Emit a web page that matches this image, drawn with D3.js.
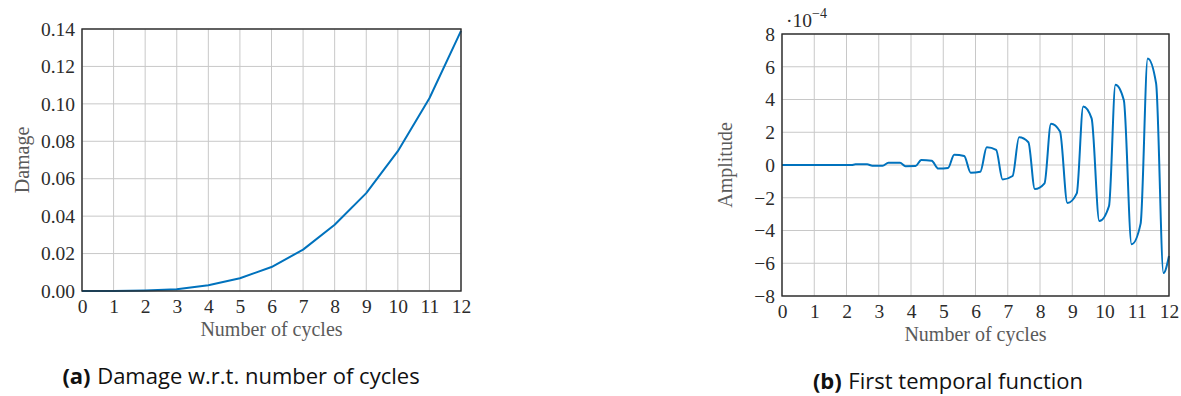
<!DOCTYPE html>
<html>
<head>
<meta charset="utf-8">
<script src="https://cdn.jsdelivr.net/npm/d3@7"></script>
<style>
  html, body { margin: 0; padding: 0; background: #fff; }
  svg { display: block; }
</style>
</head>
<body>
<svg id="fig" width="1181" height="396"></svg>
<script>
// Panel (a): accumulated damage at each whole cycle
const damageCycles = [0, 1, 2, 3, 4, 5, 6, 7, 8, 9, 10, 11, 12];
const damageValues = [0, 0.0000, 0.0003, 0.0009, 0.0031, 0.0068, 0.0128, 0.0221, 0.0354, 0.0523, 0.0747, 0.1030, 0.1390];
const damageTicks = [0, 0.02, 0.04, 0.06, 0.08, 0.10, 0.12, 0.14];

// Panel (b): first temporal function (amplitude in units of 1e-4)
const temporalCycles = [
  0, 2.0, 2.15, 2.28, 2.64, 2.8, 3.12,
  3.3, 3.66, 3.83, 4.14,
  4.32, 4.64, 4.85, 5.15,
  5.34, 5.65, 5.85, 6.15,
  6.35, 6.64, 6.84, 7.15,
  7.35, 7.64, 7.84, 8.14,
  8.34, 8.62, 8.85, 9.14,
  9.34, 9.6, 9.84, 10.14,
  10.34, 10.6, 10.84, 11.12,
  11.34, 11.6, 11.83, 12
];
const temporalAmplitude = [
  0, 0, 0, 0.04, 0.04, -0.04, -0.04,
  0.14, 0.13, -0.07, -0.06,
  0.31, 0.26, -0.22, -0.18,
  0.63, 0.55, -0.47, -0.41,
  1.08, 0.92, -0.88, -0.67,
  1.69, 1.39, -1.47, -1.12,
  2.52, 2.04, -2.32, -1.73,
  3.58, 2.85, -3.42, -2.50,
  4.90, 3.95, -4.84, -3.58,
  6.50, 4.98, -6.60, -5.56
];
const amplitudeTicks = [-8, -6, -4, -2, 0, 2, 4, 6, 8];
const cycleTicks = d3.range(0, 13);

const captions = ["Damage w.r.t. number of cycles", "First temporal function"];

const LINE = "#0072bd";
const GRID = "#c8c8c8";
const SERIF = "'Liberation Serif', 'DejaVu Serif', serif";
const SANS = "'Open Sans', 'Noto Sans', sans-serif";
const TICK_SIZE = 19.5;
const TITLE_SIZE = 20;
const CAP_SIZE = 22;

const svg = d3.select("#fig");

function panel(opt) {
  const x = d3.scaleLinear().domain([0, 12]).range([opt.x0, opt.x1]);
  const y = d3.scaleLinear().domain(opt.yDomain).range([opt.y1, opt.y0]);
  const g = svg.append("g");

  // grid
  g.append("g").selectAll("line").data(cycleTicks).join("line")
    .attr("x1", d => x(d)).attr("x2", d => x(d))
    .attr("y1", opt.y0).attr("y2", opt.y1)
    .attr("stroke", GRID).attr("stroke-width", 1);
  g.append("g").selectAll("line").data(opt.yTicks).join("line")
    .attr("x1", opt.x0).attr("x2", opt.x1)
    .attr("y1", d => y(d)).attr("y2", d => y(d))
    .attr("stroke", GRID).attr("stroke-width", 1);

  // axes (tick labels only, frame drawn separately)
  const xAxis = d3.axisBottom(x).tickValues(cycleTicks).tickSize(0).tickPadding(8)
    .tickFormat(d3.format("d"));
  const yAxis = d3.axisLeft(y).tickValues(opt.yTicks).tickSize(0).tickPadding(7)
    .tickFormat(opt.yFormat);
  const gx = g.append("g").attr("transform", `translate(0,${opt.y1})`).call(xAxis);
  const gy = g.append("g").attr("transform", `translate(${opt.x0},0)`).call(yAxis);
  [gx, gy].forEach(a => {
    a.attr("font-family", SERIF).attr("font-size", TICK_SIZE);
    a.select(".domain").remove();
    a.selectAll("text").attr("fill", "#2b2b2b");
  });
  gx.selectAll("text").attr("dy", "0.71em");

  // data line
  const line = d3.line().x(d => x(d[0])).y(d => y(d[1])).curve(opt.curve);
  g.append("path").datum(d3.zip(opt.xs, opt.ys))
    .attr("d", line).attr("fill", "none")
    .attr("stroke", LINE).attr("stroke-width", 2).attr("stroke-linejoin", "round");

  // frame
  g.append("rect").attr("x", opt.x0).attr("y", opt.y0)
    .attr("width", opt.x1 - opt.x0).attr("height", opt.y1 - opt.y0)
    .attr("fill", "none").attr("stroke", "#2a2a2a").attr("stroke-width", 1.4);

  // axis titles
  g.append("text").attr("x", (opt.x0 + opt.x1) / 2).attr("y", opt.xTitleY)
    .attr("text-anchor", "middle").attr("font-family", SERIF).attr("font-size", TITLE_SIZE)
    .attr("fill", "#5a5a5a").text("Number of cycles");
  g.append("text")
    .attr("transform", `translate(${opt.yTitleX},${(opt.y0 + opt.y1) / 2}) rotate(-90)`)
    .attr("text-anchor", "middle").attr("font-family", SERIF).attr("font-size", TITLE_SIZE)
    .attr("fill", "#5a5a5a").text(opt.yTitle);

  // caption: bold tag followed by the description
  const tag = g.append("text").attr("y", opt.capY)
    .attr("font-family", SANS).attr("font-size", CAP_SIZE).attr("font-weight", "bold")
    .attr("fill", "#111").text(opt.capTag);
  const desc = g.append("text").attr("y", opt.capY)
    .attr("font-family", SANS).attr("font-size", CAP_SIZE)
    .attr("fill", "#111").text(opt.caption);
  const gap = CAP_SIZE * 0.3;
  const wTag = tag.node().getComputedTextLength();
  const wDesc = desc.node().getComputedTextLength();
  const start = opt.capX - (wTag + gap + wDesc) / 2;
  tag.attr("x", start);
  desc.attr("x", start + wTag + gap);
  return { g, x, y };
}

panel({
  x0: 82, x1: 461, y0: 29, y1: 291,
  yDomain: [0, 0.14], yTicks: damageTicks, yFormat: d3.format(".2f"),
  xs: damageCycles, ys: damageValues, curve: d3.curveLinear,
  xTitleY: 336, yTitleX: 29, yTitle: "Damage",
  capX: 241, capY: 384, capTag: "(a)", caption: captions[0]
});

const b = panel({
  x0: 782, x1: 1169, y0: 34, y1: 296,
  yDomain: [-8, 8], yTicks: amplitudeTicks, yFormat: d => d3.format("d")(d).replace("-", "\u2212"),
  xs: temporalCycles, ys: temporalAmplitude, curve: d3.curveMonotoneX,
  xTitleY: 341, yTitleX: 732, yTitle: "Amplitude",
  capX: 948, capY: 389, capTag: "(b)", caption: captions[1]
});

// scale factor label for the amplitude axis
const expo = b.g.append("text").attr("x", 786).attr("y", 27)
  .attr("font-family", SERIF).attr("font-size", TICK_SIZE).attr("fill", "#2b2b2b");
expo.append("tspan").text("\u00b710");
expo.append("tspan").attr("font-size", 14).attr("dy", -9).text("\u22124");
</script>
</body>
</html>
